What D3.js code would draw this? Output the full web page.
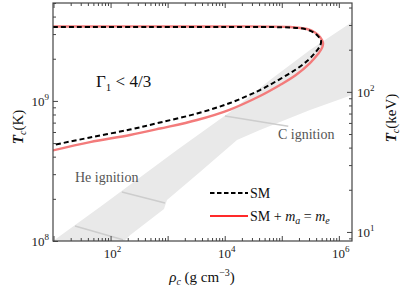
<!DOCTYPE html>
<html><head><meta charset="utf-8">
<script src="https://cdn.jsdelivr.net/npm/d3@7"></script>
<style>
body{margin:0;background:#fff;}
svg text{font-family:"Liberation Serif","DejaVu Serif",serif;}
</style></head>
<body><svg id="c" width="407" height="294"></svg>
<script>
// ---- data ----
const smCurve = [
  [9.8,3.37e9],[491,3.37e9],[2.77e4,3.37e9],[1.39e5,3.34e9],[2.55e5,3.26e9],[3.52e5,3.10e9],
  [4.31e5,2.90e9],[4.87e5,2.68e9],[4.68e5,2.47e9],[3.82e5,2.20e9],[2.77e5,1.927e9],[1.71e5,1.662e9],
  [9.31e4,1.433e9],[4.15e4,1.196e9],[1.24e4,9.66e8],[3.27e3,8.13e8],[735,7.01e8],[219,6.25e8],[43.6,5.48e8],[9.8,4.84e8]
];
const axionCurve = [
  [9.8,3.40e9],[3.69e3,3.40e9],[1.39e5,3.37e9],[2.77e5,3.26e9],[3.82e5,3.08e9],[4.68e5,2.86e9],
  [5.28e5,2.59e9],[5.07e5,2.39e9],[4.31e5,2.16e9],[3.12e5,1.864e9],[1.77e5,1.531e9],[9.31e4,1.299e9],
  [4.15e4,1.084e9],[1.24e4,8.68e8],[3.27e3,7.31e8],[735,6.35e8],[219,5.71e8],[43.6,5.08e8],[9.8,4.43e8]
];
const bandUpper = [[5.8,8.5e7],[9.8,1e8],[65.3,1.75e8],[1459,4.47e8],[1.24e4,8.34e8],[6.22e4,1.41e9],[3.12e5,2.31e9],[1.7e6,3.66e9]];
const bandLower = [[1.7e6,1.10e9],[3.12e5,8.61e8],[4.15e4,6.19e8],[1.64e4,5.26e8],[3.69e3,3.11e8],[975,1.96e8],[863,1.69e8],[219,1.10e8],[119,8.6e7]];
const ignitionLines = [
  [[23.8,1.28e8],[165,1.02e8]],
  [[158,2.24e8],[900,1.87e8]],
  [[1.01e4,7.80e8],[1.3e5,6.6e8]]
];
const xMajor = [10,100,1e3,1e4,1e5,1e6];
const xLabelTicks = [100,1e4,1e6];
const xLabelExp = ["2","4","6"];
const yLabelTicks = [1e8,1e9];
const yLabelExp = ["8","9"];
const keVLabelTicks = [10,100];
const keVLabelExp = ["1","2"];
const KPERKEV = 1.1605e7;

// ---- layout ----
const L=53,R=352,T=3,B=241;
const svg=d3.select("#c");
const x=d3.scaleLog().domain([9.8,1.7e6]).range([L,R]);
const y=d3.scaleLog().domain([1e8,5e9]).range([B,T]);
const yk=d3.scaleLog().domain([1e8/KPERKEV,5e9/KPERKEV]).range([B,T]);

function minorTicks(lo,hi){const out=[];for(let e=Math.floor(Math.log10(lo));e<=Math.ceil(Math.log10(hi));e++){for(let m=1;m<10;m++){const v=m*Math.pow(10,e);if(v>=lo&&v<=hi)out.push(v);}}return out;}

svg.append("clipPath").attr("id","clip").append("rect").attr("x",L).attr("y",T).attr("width",R-L).attr("height",B-T);
const g=svg.append("g").attr("clip-path","url(#clip)");
const line=d3.line().x(d=>x(d[0])).y(d=>y(d[1]));
g.append("path").attr("d",line(bandUpper.concat(bandLower))+"Z").attr("fill","#e9e9e9");
ignitionLines.forEach(s=>g.append("path").attr("d",line(s)).attr("stroke","#cdcdcd").attr("stroke-width",1.5).attr("fill","none"));
const cl=d3.line().x(d=>x(d[0])).y(d=>y(d[1])).curve(d3.curveCatmullRom.alpha(0.5));
g.append("path").attr("d",cl(axionCurve)).attr("stroke","#f37b7b").attr("stroke-width",2.4).attr("fill","none");
g.append("path").attr("d",cl(smCurve)).attr("stroke","#000").attr("stroke-width",2).attr("stroke-dasharray","5,3").attr("fill","none");

// ---- axes ----
const axc="#444";
function styleAxis(sel){sel.select(".domain").remove();sel.selectAll("line").attr("stroke",axc).attr("stroke-width",1);sel.selectAll("text").remove();}
const xMin=minorTicks(9.8,1.7e6).filter(v=>!xMajor.includes(v));
svg.append("g").attr("transform",`translate(0,${B})`).call(d3.axisBottom(x).tickValues(xMin).tickSize(-3)).call(styleAxis);
svg.append("g").attr("transform",`translate(0,${B})`).call(d3.axisBottom(x).tickValues(xMajor).tickSize(-5)).call(styleAxis);
svg.append("g").attr("transform",`translate(0,${T})`).call(d3.axisTop(x).tickValues(xMin).tickSize(-3)).call(styleAxis);
svg.append("g").attr("transform",`translate(0,${T})`).call(d3.axisTop(x).tickValues(xMajor).tickSize(-5)).call(styleAxis);
const yMin=minorTicks(1e8,5e9).filter(v=>!yLabelTicks.includes(v));
svg.append("g").attr("transform",`translate(${L},0)`).call(d3.axisLeft(y).tickValues(yMin).tickSize(-3)).call(styleAxis);
svg.append("g").attr("transform",`translate(${L},0)`).call(d3.axisLeft(y).tickValues(yLabelTicks).tickSize(-5)).call(styleAxis);
const kMin=minorTicks(1e8/KPERKEV,5e9/KPERKEV).filter(v=>!keVLabelTicks.includes(v));
svg.append("g").attr("transform",`translate(${R},0)`).call(d3.axisRight(yk).tickValues(kMin).tickSize(-3)).call(styleAxis);
svg.append("g").attr("transform",`translate(${R},0)`).call(d3.axisRight(yk).tickValues(keVLabelTicks).tickSize(-5)).call(styleAxis);
svg.append("rect").attr("x",L).attr("y",T).attr("width",R-L).attr("height",B-T).attr("fill","none").attr("stroke",axc).attr("stroke-width",1.2);

function pow10(sel,exp,anchor){sel.attr("text-anchor",anchor).attr("font-size",13).attr("fill","#222");sel.append("tspan").text("10");sel.append("tspan").attr("dy",-6).attr("font-size",9).text(exp);}
xLabelTicks.forEach((v,i)=>pow10(svg.append("text").attr("x",x(v)+2).attr("y",B+17),xLabelExp[i],"middle"));
yLabelTicks.forEach((v,i)=>pow10(svg.append("text").attr("x",L-4).attr("y",y(v)+5),yLabelExp[i],"end"));
keVLabelTicks.forEach((v,i)=>pow10(svg.append("text").attr("x",R+5).attr("y",yk(v)+5),keVLabelExp[i],"start"));

// axis titles
const tl=svg.append("text").attr("transform","translate(23,127) rotate(-90)").attr("text-anchor","middle").attr("font-size",15).attr("fill","#111");
tl.append("tspan").attr("font-style","italic").attr("font-weight","bold").text("T");
tl.append("tspan").attr("font-style","italic").attr("font-size",10).attr("dy",3).text("c");
tl.append("tspan").attr("dy",-3).text("(K)");
const tr=svg.append("text").attr("transform","translate(396,118) rotate(-90)").attr("text-anchor","middle").attr("font-size",15).attr("fill","#111");
tr.append("tspan").attr("font-style","italic").attr("font-weight","bold").text("T");
tr.append("tspan").attr("font-style","italic").attr("font-size",10).attr("dy",3).text("c");
tr.append("tspan").attr("dy",-3).text("(keV)");
const tx=svg.append("text").attr("x",202).attr("y",282).attr("text-anchor","middle").attr("font-size",15).attr("fill","#111");
tx.append("tspan").attr("font-style","italic").text("ρ");
tx.append("tspan").attr("font-style","italic").attr("font-size",10).attr("dy",3).text("c");
tx.append("tspan").attr("dy",-3).text(" (g cm");
tx.append("tspan").attr("dy",-6).attr("font-size",10).text("−3");
tx.append("tspan").attr("dy",6).text(")");

// annotations
const gt=svg.append("text").attr("x",96).attr("y",87).attr("font-size",17).attr("fill","#111");
gt.append("tspan").text("Γ");
gt.append("tspan").attr("font-size",11).attr("dy",4).text("1");
gt.append("tspan").attr("dy",-4).text(" < 4/3");
svg.append("text").attr("x",75).attr("y",182).attr("font-size",14).attr("fill","#555").text("He ignition");
svg.append("text").attr("x",278).attr("y",139).attr("font-size",14).attr("fill","#555").text("C ignition");

// legend
svg.append("line").attr("x1",210).attr("x2",248).attr("y1",193).attr("y2",193).attr("stroke","#000").attr("stroke-width",2).attr("stroke-dasharray","4.5,2.5");
svg.append("line").attr("x1",210).attr("x2",248).attr("y1",216).attr("y2",216).attr("stroke","#ff2a2a").attr("stroke-width",2);
svg.append("text").attr("x",250).attr("y",198).attr("font-size",14).attr("fill","#111").text("SM");
const lt=svg.append("text").attr("x",250).attr("y",221).attr("font-size",14).attr("fill","#111");
lt.append("tspan").text("SM + ");
lt.append("tspan").attr("font-style","italic").text("m");
lt.append("tspan").attr("font-style","italic").attr("font-size",10).attr("dy",3).text("a");
lt.append("tspan").attr("dy",-3).text(" = ");
lt.append("tspan").attr("font-style","italic").text("m");
lt.append("tspan").attr("font-style","italic").attr("font-size",10).attr("dy",3).text("e");
</script></body></html>
